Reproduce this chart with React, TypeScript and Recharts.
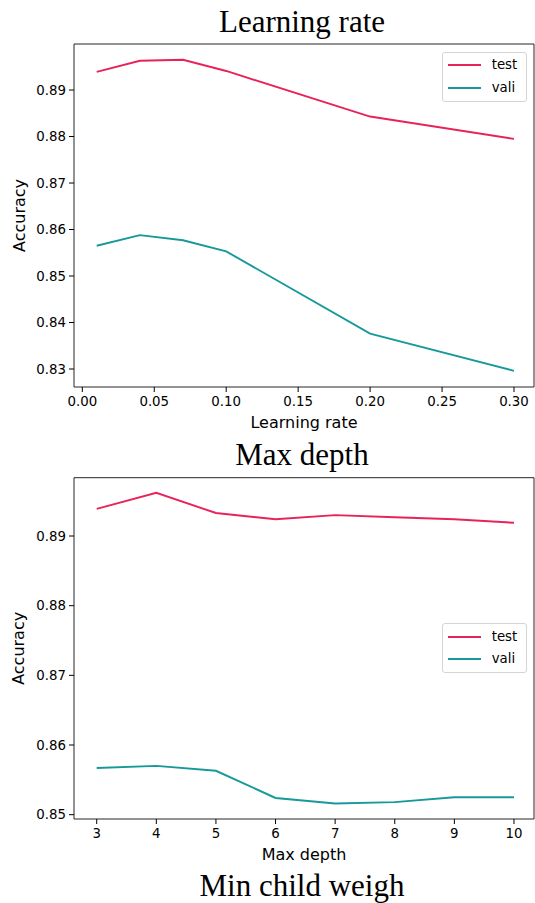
import React from 'react';
import { LineChart, Line, XAxis, YAxis, Legend } from 'recharts';

// ---- Data ----
const lrValues = [0.01, 0.04, 0.07, 0.1, 0.2, 0.3];
const lrTest = [0.8939, 0.8963, 0.8965, 0.8941, 0.8843, 0.8795];
const lrVali = [0.8565, 0.8588, 0.8577, 0.8553, 0.8376, 0.8296];
const lrXTicks = [0, 0.05, 0.1, 0.15, 0.2, 0.25, 0.3];
const lrYTicks = [0.83, 0.84, 0.85, 0.86, 0.87, 0.88, 0.89];

const depthValues = [3, 4, 5, 6, 7, 8, 9, 10];
const depthTest = [0.8939, 0.8962, 0.8933, 0.8924, 0.893, 0.8927, 0.8924, 0.8919];
const depthVali = [0.8567, 0.857, 0.8563, 0.8524, 0.8516, 0.8518, 0.8525, 0.8525];
const depthXTicks = [3, 4, 5, 6, 7, 8, 9, 10];
const depthYTicks = [0.85, 0.86, 0.87, 0.88, 0.89];

const titles = ['Learning rate', 'Max depth', 'Min child weigh'];

const TEST_COLOR = '#e8235a';
const VALI_COLOR = '#17999a';
const SANS = 'DejaVu Sans, sans-serif';
const SERIF = 'Liberation Serif, Times New Roman, serif';

const lrData = lrValues.map((x, i) => ({ x, test: lrTest[i], vali: lrVali[i] }));
const depthData = depthValues.map((x, i) => ({ x, test: depthTest[i], vali: depthVali[i] }));

const tickStyle = { fill: '#000', fontSize: 13.33, fontFamily: SANS };

const LegendBox = (props: any) => {
  const payload = (props.payload || []) as any[];
  return (
    <div
      style={{
        width: 85,
        height: 50,
        boxSizing: 'border-box',
        border: '1px solid #d4d4d4',
        borderRadius: 3,
        background: 'rgba(255,255,255,0.85)',
        position: 'relative',
        fontFamily: SANS,
        fontSize: 13.33,
        color: '#000',
      }}
    >
      {payload.map((p, i) => (
        <div key={i} style={{ position: 'absolute', left: 0, top: 12.3 + i * 22.7 - 9, height: 18, width: 85 }}>
          <div style={{ position: 'absolute', left: 5, top: 8, width: 33, height: 2, background: p.color }} />
          <div style={{ position: 'absolute', left: 49, top: 0, lineHeight: '18px', whiteSpace: 'nowrap' }}>{p.value}</div>
        </div>
      ))}
    </div>
  );
};

const XLabel = (text: string) => (props: any) => {
  const vb = props.viewBox || {};
  return (
    <text x={vb.x + vb.width / 2} y={vb.y + 41} textAnchor="middle" fill="#000" fontSize={16} fontFamily={SANS}>
      {text}
    </text>
  );
};

const YLabel = (text: string) => (props: any) => {
  const vb = props.viewBox || {};
  const x = vb.x + 24.5;
  const y = vb.y + vb.height / 2;
  return (
    <text x={x} y={y} transform={`rotate(-90, ${x}, ${y})`} textAnchor="middle" fill="#000" fontSize={16} fontFamily={SANS}>
      {text}
    </text>
  );
};

type PanelProps = {
  data: any[];
  top: number;
  height: number;
  marginTop: number;
  xAxisHeight: number;
  xDomain: [number, number];
  yDomain: [number, number];
  xTicks: number[];
  yTicks: number[];
  xFmt: (v: number) => string;
  xLabel: string;
  legendTop: number;
};

const Panel = (p: PanelProps) => (
  <div style={{ position: 'absolute', left: 0, top: p.top, width: 535, height: p.height }}>
    <LineChart width={535} height={p.height} data={p.data} margin={{ top: p.marginTop - 1, right: 0, bottom: 0, left: 0 }}>
      <XAxis
        dataKey="x"
        type="number"
        domain={p.xDomain}
        ticks={p.xTicks}
        allowDataOverflow
        height={p.xAxisHeight}
        tickFormatter={p.xFmt}
        tick={tickStyle}
        tickSize={5}
        tickMargin={5}
        tickLine={{ stroke: '#000' }}
        axisLine={{ stroke: '#262626' }}
        label={{ content: XLabel(p.xLabel) }}
      />
      <XAxis xAxisId="top" orientation="top" dataKey="x" type="number" domain={p.xDomain} allowDataOverflow height={1} tick={false} tickLine={false} axisLine={{ stroke: '#262626' }} />
      <YAxis
        type="number"
        domain={p.yDomain}
        ticks={p.yTicks}
        allowDataOverflow
        width={74}
        tickFormatter={(v: number) => v.toFixed(2)}
        tick={tickStyle}
        tickSize={5}
        tickMargin={3}
        tickLine={{ stroke: '#000' }}
        axisLine={{ stroke: '#262626' }}
        label={{ content: YLabel('Accuracy') }}
      />
      <YAxis yAxisId="right" orientation="right" type="number" domain={p.yDomain} allowDataOverflow width={1} tick={false} tickLine={false} axisLine={{ stroke: '#262626' }} />
      <Line type="linear" dataKey="test" name="test" stroke={TEST_COLOR} strokeWidth={1.9} dot={false} isAnimationActive={false} />
      <Line type="linear" dataKey="vali" name="vali" stroke={VALI_COLOR} strokeWidth={1.9} dot={false} isAnimationActive={false} />
      <Legend
        layout="vertical"
        align="center"
        verticalAlign="middle"
        content={LegendBox}
        wrapperStyle={{ left: 441.7, top: p.legendTop, width: 85, height: 50, right: 'auto', bottom: 'auto' }}
      />
    </LineChart>
  </div>
);

const Title = ({ text, top }: { text: string; top: number }) => (
  <div
    style={{
      position: 'absolute',
      left: 302,
      top,
      transform: 'translateX(-50%)',
      fontFamily: SERIF,
      fontSize: 31,
      lineHeight: '31px',
      whiteSpace: 'nowrap',
      color: '#000',
    }}
  >
    {text}
  </div>
);

export default function App() {
  return (
    <div style={{ position: 'absolute', left: 0, top: 0, width: 535, height: 903, background: '#fff', overflow: 'hidden' }}>
      <Panel
        data={lrData}
        top={0}
        height={440}
        marginTop={44}
        xAxisHeight={53}
        xDomain={[-0.00577, 0.3139]}
        yDomain={[0.82613, 0.8999]}
        xTicks={lrXTicks}
        yTicks={lrYTicks}
        xFmt={(v: number) => v.toFixed(2)}
        xLabel="Learning rate"
        legendTop={51.7}
      />
      <Panel
        data={depthData}
        top={440}
        height={463}
        marginTop={37.7}
        xAxisHeight={84}
        xDomain={[2.619, 10.336]}
        yDomain={[0.84938, 0.89837]}
        xTicks={depthXTicks}
        yTicks={depthYTicks}
        xFmt={(v: number) => String(v)}
        xLabel="Max depth"
        legendTop={183.3}
      />
      <Title text={titles[0]} top={6.3} />
      <Title text={titles[1]} top={439} />
      <Title text={titles[2]} top={870} />
    </div>
  );
}
